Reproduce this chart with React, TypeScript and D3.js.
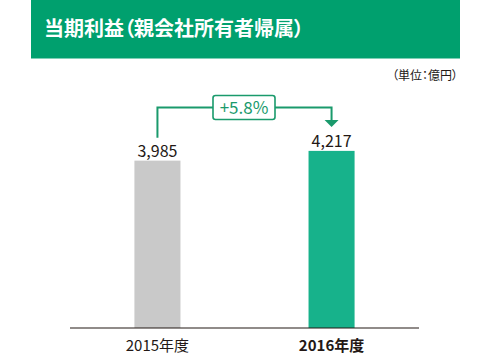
import React from "react";
import * as d3 from "d3";

const categories = ["2015年度", "2016年度"];
const values = [3985, 4217];
const valueLabels = ["3,985", "4,217"];
const changeLabel = "+5.8%";
const title = "当期利益（親会社所有者帰属）";
const unitLabel = "（単位：億円）";

const W = 490;
const H = 356;
const FONT = "'Noto Sans CJK JP', 'Noto Sans', sans-serif";

export default function App() {
  const x = d3
    .scaleBand<string>()
    .domain(categories)
    .range([70, 419])
    .paddingInner(0.7356)
    .paddingOuter(0.37);
  const y = d3.scaleLinear().domain([0, 4500]).range([328, 139]);
  const bw = x.bandwidth();
  const cx = (c: string) => (x(c) as number) + bw / 2;
  const barColors = ["#C9C9C9", "#17B28B"];
  const green = "#1A9A6C";

  const x1 = cx(categories[0]);
  const x2 = cx(categories[1]);
  const lineY = 107.5;
  const boxW = 62;
  const boxH = 24;
  const boxCx = 244;
  const arrowTop = y(values[1]) - 31;

  return (
    <svg width={W} height={H} style={{ display: "block", position: "absolute", left: 0, top: 0 }} fontFamily={FONT}>
      <rect x={31} y={0} width={429} height={58.5} fill="#00A06E" />
      <text
        x={44}
        y={36}
        fill="#fff"
        fontSize={20}
        fontWeight="bold"
        style={{ fontFeatureSettings: '"palt"' }}
      >
        {title}
      </text>
      <text
        x={458}
        y={80}
        textAnchor="end"
        fontSize={12}
        fill="#231815"
        style={{ fontFeatureSettings: '"palt"' }}
      >
        {unitLabel}
      </text>
      {categories.map((c, i) => (
        <rect
          key={c}
          x={x(c)}
          y={y(values[i])}
          width={bw}
          height={y(0) - y(values[i])}
          fill={barColors[i]}
        />
      ))}
      <line x1={70} x2={419} y1={328} y2={328} stroke="#231815" strokeWidth={1.2} />
      {categories.map((c, i) => (
        <text
          key={c + "v"}
          x={cx(c)}
          y={y(values[i]) - 4}
          textAnchor="middle"
          fontSize={16}
          fill="#231815"
        >
          {valueLabels[i]}
        </text>
      ))}
      {categories.map((c, i) => (
        <text
          key={c + "l"}
          x={cx(c)}
          y={351}
          textAnchor="middle"
          fontSize={15}
          fontWeight={i === 1 ? "bold" : "normal"}
          fill="#231815"
        >
          {c}
        </text>
      ))}
      <path
        d={`M${x1},${y(values[0]) - 23} V${lineY} H${boxCx - boxW / 2} M${boxCx + boxW / 2},${lineY} H${x2} V${arrowTop}`}
        fill="none"
        stroke={green}
        strokeWidth={2}
      />
      <path
        d={`M${x2 - 7},${arrowTop} L${x2 + 7},${arrowTop} L${x2},${arrowTop + 7} Z`}
        fill={green}
      />
      <rect
        x={boxCx - boxW / 2}
        y={lineY - boxH / 2}
        width={boxW}
        height={boxH}
        rx={2.5}
        fill="#fff"
        stroke={green}
        strokeWidth={1.6}
      />
      <text x={boxCx} y={lineY + 6} textAnchor="middle" fontSize={17} fill={green}>
        {changeLabel}
      </text>
    </svg>
  );
}
